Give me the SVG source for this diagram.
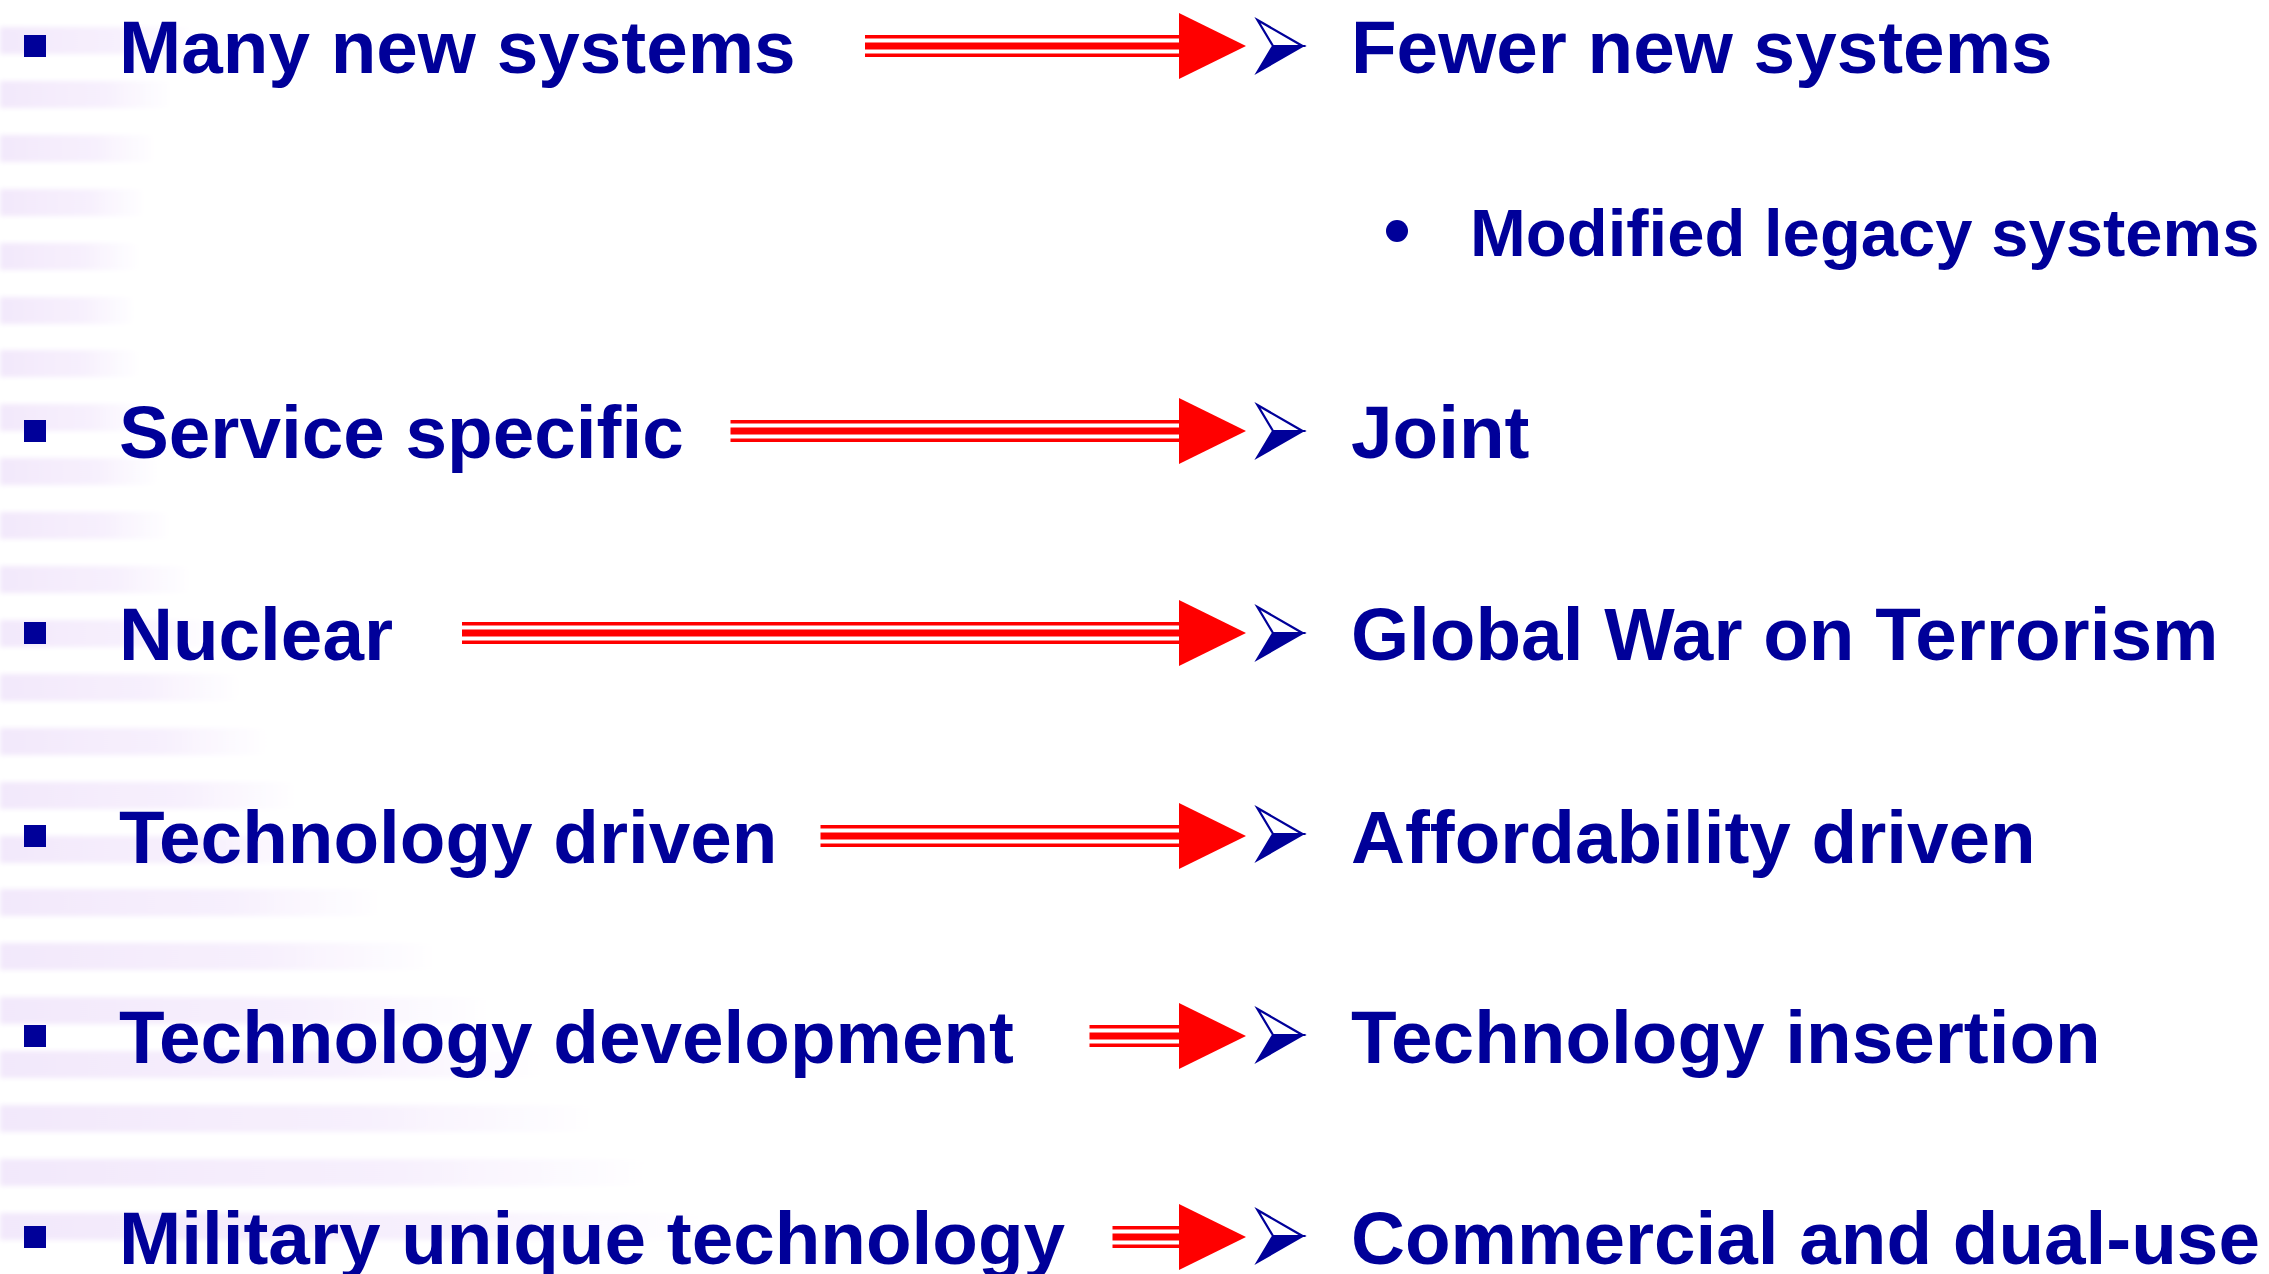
<svg xmlns="http://www.w3.org/2000/svg" width="2269" height="1274" viewBox="0 0 2269 1274">
  <style>
    .t { font-family: "Liberation Sans", Arial, sans-serif; font-weight: bold; font-size: 74.7px; fill: #000099; }
    .sub { font-size: 67px; }
    .sq { fill: #000099; }
    .ln { fill: #FF0000; }
    .hd { fill: #FF0000; }
    .stripe { fill: url(#stripeGrad); }
  </style>
  <defs>
    <linearGradient id="stripeGrad" x1="0" y1="0" x2="1" y2="0">
      <stop offset="0" stop-color="#F2E8FB"/>
      <stop offset="0.6" stop-color="#F7F0FD"/>
      <stop offset="1" stop-color="#FFFFFF"/>
    </linearGradient>
    <filter id="soft" x="-5%" y="-50%" width="110%" height="200%">
      <feGaussianBlur stdDeviation="2.5"/>
    </filter>
    <g id="redhead">
      <polygon class="hd" points="1179,-33 1246,0 1179,33"/>
    </g>
    <g id="bluebullet">
      <polygon points="1257.5,-26 1302.5,0 1273,0" fill="#FFFFFF" stroke="#000099" stroke-width="2.2" stroke-linejoin="miter"/>
      <polygon points="1273,0 1302.5,0 1257.5,26" fill="#000099" stroke="#000099" stroke-width="2.2" stroke-linejoin="miter"/>
    </g>
    <rect id="sqbullet" x="24" y="-11" width="22" height="22"/>
  </defs>

  <rect width="2269" height="1274" fill="#FFFFFF"/>

  <g id="background" filter="url(#soft)">
    <rect class="stripe" x="0" y="27" width="195" height="27"/>
    <rect class="stripe" x="0" y="81" width="173" height="27"/>
    <rect class="stripe" x="0" y="135" width="157" height="27"/>
    <rect class="stripe" x="0" y="189" width="147" height="27"/>
    <rect class="stripe" x="0" y="243" width="140" height="27"/>
    <rect class="stripe" x="0" y="297" width="137" height="27"/>
    <rect class="stripe" x="0" y="350" width="140" height="27"/>
    <rect class="stripe" x="0" y="404" width="148" height="27"/>
    <rect class="stripe" x="0" y="458" width="160" height="27"/>
    <rect class="stripe" x="0" y="512" width="172" height="27"/>
    <rect class="stripe" x="0" y="566" width="192" height="27"/>
    <rect class="stripe" x="0" y="620" width="215" height="27"/>
    <rect class="stripe" x="0" y="674" width="242" height="27"/>
    <rect class="stripe" x="0" y="728" width="270" height="27"/>
    <rect class="stripe" x="0" y="782" width="300" height="27"/>
    <rect class="stripe" x="0" y="836" width="335" height="27"/>
    <rect class="stripe" x="0" y="889" width="385" height="27"/>
    <rect class="stripe" x="0" y="943" width="440" height="27"/>
    <rect class="stripe" x="0" y="997" width="495" height="27"/>
    <rect class="stripe" x="0" y="1051" width="550" height="27"/>
    <rect class="stripe" x="0" y="1105" width="600" height="27"/>
    <rect class="stripe" x="0" y="1159" width="655" height="27"/>
    <rect class="stripe" x="0" y="1213" width="710" height="27"/>
  </g>

  <g id="connectors">
    <g id="arrow1" transform="translate(0,46)">
      <rect class="ln" x="865" y="-11" width="315" height="3.5"/>
      <rect class="ln" x="865" y="-3.5" width="315" height="7"/>
      <rect class="ln" x="865" y="7.5" width="315" height="3.5"/>
      <use href="#redhead"/>
    </g>
    <g id="arrow2" transform="translate(0,431)">
      <rect class="ln" x="730.5" y="-11" width="449.5" height="3.5"/>
      <rect class="ln" x="730.5" y="-3.5" width="449.5" height="7"/>
      <rect class="ln" x="730.5" y="7.5" width="449.5" height="3.5"/>
      <use href="#redhead"/>
    </g>
    <g id="arrow3" transform="translate(0,633)">
      <rect class="ln" x="462" y="-11" width="718" height="3.5"/>
      <rect class="ln" x="462" y="-3.5" width="718" height="7"/>
      <rect class="ln" x="462" y="7.5" width="718" height="3.5"/>
      <use href="#redhead"/>
    </g>
    <g id="arrow4" transform="translate(0,836)">
      <rect class="ln" x="820.5" y="-11" width="359.5" height="3.5"/>
      <rect class="ln" x="820.5" y="-3.5" width="359.5" height="7"/>
      <rect class="ln" x="820.5" y="7.5" width="359.5" height="3.5"/>
      <use href="#redhead"/>
    </g>
    <g id="arrow5" transform="translate(0,1036)">
      <rect class="ln" x="1089.5" y="-11" width="90.5" height="3.5"/>
      <rect class="ln" x="1089.5" y="-3.5" width="90.5" height="7"/>
      <rect class="ln" x="1089.5" y="7.5" width="90.5" height="3.5"/>
      <use href="#redhead"/>
    </g>
    <g id="arrow6" transform="translate(0,1237)">
      <rect class="ln" x="1112.5" y="-11" width="67.5" height="3.5"/>
      <rect class="ln" x="1112.5" y="-3.5" width="67.5" height="7"/>
      <rect class="ln" x="1112.5" y="7.5" width="67.5" height="3.5"/>
      <use href="#redhead"/>
    </g>
  </g>

  <g id="from1">
    <use href="#sqbullet" class="sq" y="46"/>
    <text class="t" x="119" y="73">Many new systems</text>
  </g>
  <g id="to1">
    <use href="#bluebullet" y="46"/>
    <text class="t" x="1351" y="73">Fewer new systems</text>
  </g>
  <g id="to1-sub">
    <circle cx="1397" cy="231" r="11" fill="#000099"/>
    <text class="t sub" x="1470" y="256">Modified legacy systems</text>
  </g>

  <g id="from2">
    <use href="#sqbullet" class="sq" y="431"/>
    <text class="t" x="119" y="458">Service specific</text>
  </g>
  <g id="to2">
    <use href="#bluebullet" y="431"/>
    <text class="t" x="1351" y="458">Joint</text>
  </g>

  <g id="from3">
    <use href="#sqbullet" class="sq" y="633"/>
    <text class="t" x="119" y="660">Nuclear</text>
  </g>
  <g id="to3">
    <use href="#bluebullet" y="633"/>
    <text class="t" x="1351" y="660">Global War on Terrorism</text>
  </g>

  <g id="from4">
    <use href="#sqbullet" class="sq" y="836"/>
    <text class="t" x="119" y="863">Technology driven</text>
  </g>
  <g id="to4">
    <use href="#bluebullet" y="834"/>
    <text class="t" x="1351" y="863">Affordability driven</text>
  </g>

  <g id="from5">
    <use href="#sqbullet" class="sq" y="1036"/>
    <text class="t" x="119" y="1063">Technology development</text>
  </g>
  <g id="to5">
    <use href="#bluebullet" y="1035"/>
    <text class="t" x="1351" y="1063">Technology insertion</text>
  </g>

  <g id="from6">
    <use href="#sqbullet" class="sq" y="1237"/>
    <text class="t" x="119" y="1264">Military unique technology</text>
  </g>
  <g id="to6">
    <use href="#bluebullet" y="1236"/>
    <text class="t" x="1351" y="1264">Commercial and dual-use</text>
  </g>
</svg>
